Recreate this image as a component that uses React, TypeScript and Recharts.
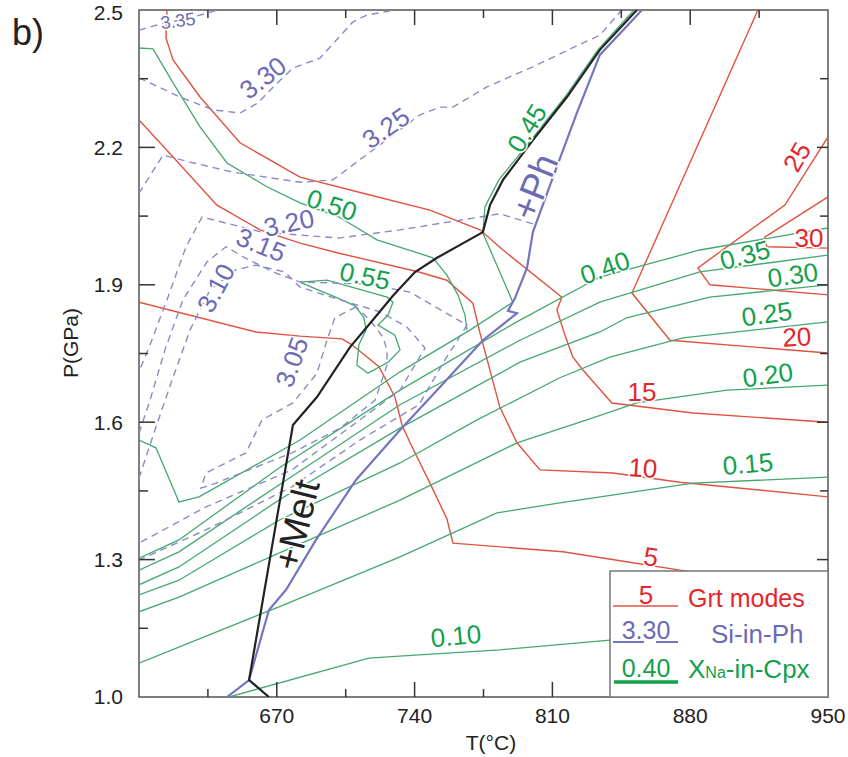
import React from 'react';
import { LineChart, Line, XAxis, YAxis, ReferenceArea, ReferenceLine, ReferenceDot } from 'recharts';

// P-T section, T in °C and P in GPa as [T, P] pairs

// Grt modes (vol%)
const grt5 = [[600, 1.862], [659.4, 1.797], [681.8, 1.788], [703.1, 1.782], [708.2, 1.769], [721.9, 1.721], [730.0, 1.655], [733.6, 1.594], [737.7, 1.555], [747.8, 1.467], [756.4, 1.389], [759.5, 1.336], [815.3, 1.317], [850.9, 1.293], [874.8, 1.277], [950, 1.234]];
const grt10 = [[600, 2.26], [617.3, 2.179], [639.6, 2.074], [661.5, 2.02], [681.8, 1.991], [701.6, 1.969], [742.2, 1.928], [756.4, 1.91], [769.6, 1.86], [773.2, 1.795], [783.3, 1.633], [792.0, 1.555], [803.7, 1.496], [840.7, 1.489], [874.8, 1.469], [950, 1.437]];
const grt15 = [[614.2, 2.5], [613.7, 2.439], [617.3, 2.391], [631.0, 2.31], [651.3, 2.21], [681.8, 2.135], [717.3, 2.096], [747.8, 2.063], [773.2, 2.02], [784.9, 1.976], [814.8, 1.873], [812.3, 1.845], [816.4, 1.79], [820.4, 1.742], [825.5, 1.714], [840.2, 1.642], [881.4, 1.62], [950, 1.6]];
const grt20 = [[914.4, 2.5], [850.4, 1.882], [869.7, 1.779], [950, 1.751]];
const grt25 = [[950, 2.223], [928.1, 2.074], [883.9, 1.937], [890.0, 1.9], [950, 1.878]];
const grt30 = [[950, 2.092], [917.9, 2.004], [918.9, 1.983], [950, 1.98]];

// Si-in-Ph (a.p.f.u.)
const si335 = [[600, 2.456], [610.7, 2.469], [623.4, 2.48], [634.5, 2.493], [639.6, 2.5]];
const si330 = [[600, 2.352], [620.8, 2.31], [637.6, 2.282], [651.3, 2.275], [660.4, 2.297], [669.1, 2.336], [678.2, 2.373], [691.9, 2.395], [708.7, 2.474], [715.8, 2.489], [730, 2.5]];
const si325 = [[600, 2.1], [612.2, 2.183], [625.9, 2.168], [647.7, 2.146], [681.8, 2.124], [698.5, 2.129], [742.7, 2.271], [752.9, 2.288], [759.5, 2.288], [776.7, 2.332], [800.1, 2.376], [825.5, 2.428], [834.1, 2.445], [845.3, 2.5]];
const si320 = [[800.1, 2.033], [783.3, 2.055], [773.2, 2.048], [732.6, 2.02], [701.6, 2.002], [662.5, 2.015], [632.0, 2.048], [623.9, 1.983], [614.2, 1.867], [605.6, 1.769], [600, 1.71]];
const si315 = [[600, 1.576], [605.6, 1.648], [613.2, 1.758], [622.3, 1.867], [634.5, 1.95], [644.2, 1.983], [653.8, 1.959], [668.1, 1.928], [681.8, 1.906], [715.8, 1.902], [737.6, 1.884], [766.6, 1.812], [755.4, 1.736], [742.2, 1.638], [712.2, 1.561], [677.7, 1.459], [634.0, 1.365], [600, 1.299]];
const si310 = [[600, 1.478], [608.1, 1.583], [616.8, 1.692], [625.9, 1.801], [636.1, 1.889], [648.8, 1.932], [659.4, 1.943], [674.1, 1.928], [681.8, 1.895], [702.1, 1.867], [722.4, 1.841], [736.1, 1.808], [745.3, 1.762], [732.6, 1.67], [712.2, 1.605], [677.7, 1.496], [634.0, 1.415], [600, 1.336]];
const si305 = [[710.2, 1.852], [699.5, 1.828], [695.5, 1.779], [690.4, 1.707], [678.2, 1.642], [662.5, 1.605], [654.3, 1.533], [634.0, 1.489], [631.5, 1.456], [639.1, 1.467], [655.9, 1.496], [677.7, 1.533], [702.1, 1.587], [719.9, 1.648], [726.0, 1.725], [726.0, 1.758], [723.9, 1.786], [717.3, 1.823], [710.2, 1.852]];

// XNa-in-Cpx
const xna010 = [[645.7, 1.0], [716.8, 1.085], [742.2, 1.092], [783.3, 1.103], [839.2, 1.124], [950, 1.164]];
const xna015 = [[600, 1.074], [671.1, 1.197], [732.6, 1.306], [781.8, 1.402], [813.8, 1.424], [881.4, 1.467], [950, 1.48]];
const xna020 = [[600, 1.186], [620.3, 1.218], [671.1, 1.314], [732.6, 1.43], [792.0, 1.555], [827.5, 1.605], [852.9, 1.642], [898.6, 1.67], [950, 1.681]];
const xna025 = [[600, 1.223], [620.3, 1.255], [671.1, 1.386], [732.6, 1.511], [771.7, 1.605], [813.8, 1.697], [839.2, 1.742], [876.3, 1.784], [950, 1.819]];
const xna030 = [[600, 1.245], [620.3, 1.284], [671.1, 1.43], [732.6, 1.587], [793.5, 1.731], [834.1, 1.797], [847.8, 1.828], [890.0, 1.873], [950, 1.9]];
const xna035 = [[600, 1.277], [620.3, 1.317], [671.1, 1.463], [732.6, 1.638], [793.5, 1.779], [834.1, 1.862], [884.9, 1.928], [950, 1.965]];
const xna040 = [[600, 1.303], [620.3, 1.343], [671.1, 1.5], [732.6, 1.67], [793.5, 1.823], [834.1, 1.917], [884.9, 1.976], [950, 2.024]];
const xna045 = [[600, 1.561], [608.6, 1.544], [620.3, 1.426], [630.5, 1.437], [681.8, 1.561], [732.6, 1.71], [768.1, 1.801], [789.9, 1.862], [774.7, 2.013], [775.7, 2.07], [782.8, 2.129], [799.1, 2.216], [816.4, 2.31], [833.1, 2.413], [851.4, 2.5]];
const xna050 = [[600, 2.417], [607.1, 2.415], [617.3, 2.341], [631.0, 2.245], [644.7, 2.166], [665.0, 2.114], [681.8, 2.079], [701.6, 2.048], [720.9, 1.998], [749.3, 1.959], [756.4, 1.921], [762.0, 1.878], [765.6, 1.834], [766.6, 1.801]];
const xna055 = [[681.8, 1.906], [695.5, 1.91], [726.0, 1.873], [729.0, 1.862], [726.5, 1.834], [721.4, 1.812], [730.0, 1.79], [732.6, 1.758], [726.5, 1.731], [716.3, 1.707], [710.7, 1.725], [711.7, 1.769], [715.3, 1.801], [714.3, 1.828], [709.7, 1.854], [701.1, 1.871], [690.9, 1.889], [681.8, 1.906]];

// phase boundaries
const meltIn = [[666.0, 1.0], [655.9, 1.037], [678.2, 1.594], [690.4, 1.655], [707.2, 1.764], [718.8, 1.823], [729.0, 1.876], [740.2, 1.928], [751.4, 1.959], [774.7, 2.015], [778.3, 2.074], [784.9, 2.129], [800.1, 2.216], [817.4, 2.31], [834.1, 2.413], [852.9, 2.5]];
const phIn = [[644.7, 1.0], [655.9, 1.037], [666.0, 1.19], [674.7, 1.234], [689.9, 1.343], [710.2, 1.474], [732.6, 1.583], [752.9, 1.677], [774.7, 1.779], [792.0, 1.838], [787.4, 1.843], [791.0, 1.871], [797.1, 1.937], [800.1, 2.015], [810.3, 2.135], [822.4, 2.275], [834.1, 2.402], [855.5, 2.5]];

const xTickLabels = [600, 670, 740, 810, 880, 950];
const yTickLabels = [1.0, 1.3, 1.6, 1.9, 2.2, 2.5];
const xMajorTicks = [670, 740, 810, 880];
const xMinorTicks = [635, 705, 775, 845, 915];
const yMajorTicks = [1.3, 1.6, 1.9, 2.2];
const yMinorTicks = [1.15, 1.45, 1.75, 2.05, 2.35];

const RED = '#e0533f';
const GREEN = '#45a86f';
const DASH = '#8a8ac8';
const BLUE = '#7474c0';
const BLACK = '#222222';
const RED_TXT = '#e3262b';
const GREEN_TXT = '#13a04b';
const BLUE_TXT = '#6b6bb5';

const FONT = '"Liberation Sans", Arial, Helvetica, sans-serif';

// full-window figure, no scrollbars
if (typeof document !== 'undefined') {
  document.body.style.margin = '0';
  document.body.style.overflow = 'hidden';
}

const series = [
  { id: 'g5', d: grt5, c: RED, w: 1.4 },
  { id: 'g10', d: grt10, c: RED, w: 1.4 },
  { id: 'g15', d: grt15, c: RED, w: 1.4 },
  { id: 'g20', d: grt20, c: RED, w: 1.4 },
  { id: 'g25', d: grt25, c: RED, w: 1.4 },
  { id: 'g30', d: grt30, c: RED, w: 1.4 },
  { id: 'x10', d: xna010, c: GREEN, w: 1.3 },
  { id: 'x15', d: xna015, c: GREEN, w: 1.3 },
  { id: 'x20', d: xna020, c: GREEN, w: 1.3 },
  { id: 'x25', d: xna025, c: GREEN, w: 1.3 },
  { id: 'x30', d: xna030, c: GREEN, w: 1.3 },
  { id: 'x35', d: xna035, c: GREEN, w: 1.3 },
  { id: 'x40', d: xna040, c: GREEN, w: 1.3 },
  { id: 'x45', d: xna045, c: GREEN, w: 1.3 },
  { id: 'x50', d: xna050, c: GREEN, w: 1.3 },
  { id: 'x55', d: xna055, c: GREEN, w: 1.3 },
  { id: 's335', d: si335, c: DASH, w: 1.4, dash: '7 5' },
  { id: 's330', d: si330, c: DASH, w: 1.4, dash: '7 5' },
  { id: 's325', d: si325, c: DASH, w: 1.4, dash: '7 5' },
  { id: 's320', d: si320, c: DASH, w: 1.4, dash: '7 5' },
  { id: 's315', d: si315, c: DASH, w: 1.4, dash: '7 5' },
  { id: 's310', d: si310, c: DASH, w: 1.4, dash: '7 5' },
  { id: 's305', d: si305, c: DASH, w: 1.4, dash: '7 5' },
  { id: 'ph', d: phIn, c: BLUE, w: 2.2 },
  { id: 'melt', d: meltIn, c: BLACK, w: 2.2 },
];

const labels = [
  { text: '3.35', t: 619.8, p: 2.476, a: -8, c: BLUE_TXT, s: 18 },
  { text: '3.30', t: 663.0, p: 2.352, a: -38, c: BLUE_TXT, s: 26 },
  { text: '3.25', t: 725.4, p: 2.242, a: -35, c: BLUE_TXT, s: 26 },
  { text: '3.20', t: 676.2, p: 2.035, a: -12, c: BLUE_TXT, s: 26 },
  { text: '3.15', t: 662.0, p: 1.987, a: 22, c: BLUE_TXT, s: 26 },
  { text: '3.10', t: 639.1, p: 1.893, a: -62, c: BLUE_TXT, s: 26 },
  { text: '3.05', t: 677.7, p: 1.731, a: -70, c: BLUE_TXT, s: 26 },
  { text: '0.50', t: 698.0, p: 2.074, a: 18, c: GREEN_TXT, s: 26 },
  { text: '0.55', t: 714.8, p: 1.919, a: 12, c: GREEN_TXT, s: 26 },
  { text: '0.45', t: 797.1, p: 2.242, a: -58, c: GREEN_TXT, s: 26 },
  { text: '0.40', t: 836.7, p: 1.937, a: -20, c: GREEN_TXT, s: 26 },
  { text: '0.35', t: 907.8, p: 1.965, a: -15, c: GREEN_TXT, s: 26 },
  { text: '0.30', t: 932.1, p: 1.921, a: -8, c: GREEN_TXT, s: 26 },
  { text: '0.25', t: 918.9, p: 1.836, a: -8, c: GREEN_TXT, s: 26 },
  { text: '0.20', t: 919.4, p: 1.703, a: -8, c: GREEN_TXT, s: 26 },
  { text: '0.15', t: 909.3, p: 1.509, a: -5, c: GREEN_TXT, s: 26 },
  { text: '0.10', t: 761.0, p: 1.133, a: -5, c: GREEN_TXT, s: 26 },
  { text: '25', t: 934.2, p: 2.179, a: -60, c: RED_TXT, s: 26 },
  { text: '30', t: 940.3, p: 2.002, a: 0, c: RED_TXT, s: 26 },
  { text: '20', t: 934.2, p: 1.786, a: -3, c: RED_TXT, s: 26 },
  { text: '15', t: 855.5, p: 1.666, a: 0, c: RED_TXT, s: 26 },
  { text: '10', t: 856.0, p: 1.5, a: 4, c: RED_TXT, s: 26 },
  { text: '5', t: 860.0, p: 1.306, a: 8, c: RED_TXT, s: 26 },
  { text: '+Ph', t: 801.1, p: 2.114, a: -68, c: BLUE_TXT, s: 37 },
  { text: '+Melt', t: 680.2, p: 1.376, a: -76, c: BLACK, s: 37 },
];

const toPts = (arr: number[][]) => arr.map(([t, p]) => ({ t, p }));

const LabelText = (props: any) => {
  const { cx, cy, l } = props;
  return (
    <text
      x={cx}
      y={cy}
      transform={`rotate(${l.a} ${cx} ${cy})`}
      textAnchor="middle"
      dominantBaseline="central"
      fontFamily={FONT}
      fontSize={l.s}
      fill={l.c}
      stroke="#fff"
      strokeWidth={3}
      paintOrder="stroke"
    >
      {l.text}
    </text>
  );
};

export default function App() {
  const tickColor = '#333';
  return (
    <div style={{ position: 'relative', width: 848, height: 757 }}>
      <LineChart width={848} height={757} margin={{ top: 10, right: 20, bottom: 30, left: 0 }}>
        <XAxis
          dataKey="t"
          type="number"
          domain={[600, 950]}
          allowDataOverflow
          ticks={xTickLabels}
          tickFormatter={(v: number) => (v === 600 ? '' : String(v))}
          axisLine={false}
          tickLine={false}
          tickSize={0}
          tickMargin={11}
          height={30}
          tick={{ fontSize: 21, fill: '#222', fontFamily: FONT }}
        />
        <YAxis
          dataKey="p"
          type="number"
          domain={[1.0, 2.5]}
          allowDataOverflow
          ticks={yTickLabels}
          tickFormatter={(v: number) => v.toFixed(1)}
          axisLine={false}
          tickLine={false}
          tickSize={0}
          tickMargin={16}
          width={139}
          tick={{ fontSize: 21, fill: '#222', fontFamily: FONT }}
        />
        {series.map((s) => (
          <Line
            key={s.id}
            data={toPts(s.d)}
            dataKey="p"
            type="linear"
            stroke={s.c}
            strokeWidth={s.w}
            strokeDasharray={s.dash}
            dot={false}
            activeDot={false}
            isAnimationActive={false}
          />
        ))}
        {labels.map((l) => (
          <ReferenceDot
            key={l.text + l.t}
            x={l.t}
            y={l.p}
            r={0}
            ifOverflow="visible"
            shape={(props: any) => <LabelText {...props} l={l} />}
          />
        ))}
        <ReferenceArea x1={600} x2={950} y1={1.0} y2={2.5} fill="none" fillOpacity={0} stroke="#555" strokeWidth={1.5} ifOverflow="visible" />
        {xMajorTicks.map((x) => (
          <ReferenceLine key={'xb' + x} segment={[{ x, y: 1.0 }, { x, y: 1.033 }]} stroke={tickColor} strokeWidth={1.5} />
        ))}
        {xMinorTicks.map((x) => (
          <ReferenceLine key={'xbm' + x} segment={[{ x, y: 1.0 }, { x, y: 1.0175 }]} stroke={tickColor} strokeWidth={1.5} />
        ))}
        {xMajorTicks.map((x) => (
          <ReferenceLine key={'xt' + x} segment={[{ x, y: 2.5 }, { x, y: 2.467 }]} stroke={tickColor} strokeWidth={1.5} />
        ))}
        {xMinorTicks.map((x) => (
          <ReferenceLine key={'xtm' + x} segment={[{ x, y: 2.5 }, { x, y: 2.4825 }]} stroke={tickColor} strokeWidth={1.5} />
        ))}
        {yMajorTicks.map((y) => (
          <ReferenceLine key={'yl' + y} segment={[{ x: 600, y }, { x: 608.1, y }]} stroke={tickColor} strokeWidth={1.5} />
        ))}
        {yMinorTicks.map((y) => (
          <ReferenceLine key={'ylm' + y} segment={[{ x: 600, y }, { x: 604.6, y }]} stroke={tickColor} strokeWidth={1.5} />
        ))}
        {yMajorTicks.map((y) => (
          <ReferenceLine key={'yr' + y} segment={[{ x: 950, y }, { x: 944.4, y }]} stroke={tickColor} strokeWidth={1.5} />
        ))}
        {yMinorTicks.map((y) => (
          <ReferenceLine key={'yrm' + y} segment={[{ x: 950, y }, { x: 946, y }]} stroke={tickColor} strokeWidth={1.5} />
        ))}
      </LineChart>
      <svg
        width={848}
        height={757}
        style={{ position: 'absolute', left: 0, top: 0, pointerEvents: 'none' }}
        fontFamily={FONT}
      >
        <text x={12} y={45} fontSize={36} fill="#222">b)</text>
        <text transform="translate(70 343) rotate(-90)" textAnchor="middle" dominantBaseline="central" fontSize={21} fill="#222">
          P(GPa)
        </text>
        <text x={491} y={742} textAnchor="middle" dominantBaseline="central" fontSize={21} fill="#222">
          T(°C)
        </text>
        <g transform="translate(610 571)">
          <rect x={0} y={0} width={218} height={126} fill="#fff" stroke="#777" strokeWidth={1.5} />
          <text x={36} y={33} textAnchor="middle" fontSize={26} fill={RED_TXT}>5</text>
          <line x1={3} x2={68} y1={35} y2={35} stroke={RED} strokeWidth={1.5} />
          <text x={78} y={36} fontSize={25} fill={RED_TXT}>Grt modes</text>
          <text x={36} y={68} textAnchor="middle" fontSize={25} fill={BLUE_TXT}>3.30</text>
          <line x1={3} x2={34} y1={71} y2={71} stroke={BLUE} strokeWidth={2} />
          <line x1={46} x2={68} y1={71} y2={71} stroke={BLUE} strokeWidth={2} />
          <text x={101} y={72} fontSize={26} fill={BLUE_TXT}>Si-in-Ph</text>
          <text x={36} y={106} textAnchor="middle" fontSize={25} fill={GREEN_TXT}>0.40</text>
          <line x1={4} x2={68} y1={111} y2={111} stroke={GREEN_TXT} strokeWidth={3.5} />
          <text x={78} y={107} fontSize={26} fill={GREEN_TXT}>
            X<tspan fontSize={16}>Na</tspan>-in-Cpx
          </text>
        </g>
      </svg>
    </div>
  );
}
